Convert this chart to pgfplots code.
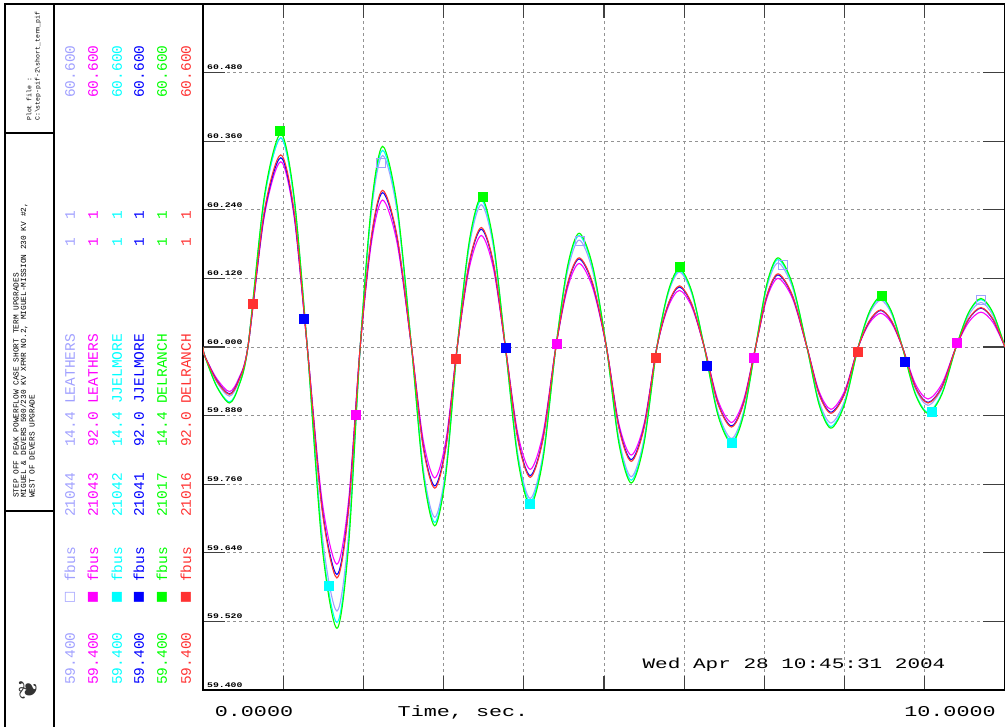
\documentclass[border=0pt]{standalone}
\usepackage{graphicx}
\usepackage{pgfplots}
\usepackage{pgfplotstable}
\pgfplotsset{compat=1.18}
\usepackage{fontspec}
\setmainfont{Liberation Sans}
\newfontfamily\monof{Liberation Mono}
\newfontfamily\symf{DejaVu Sans}
\definecolor{clav}{RGB}{160,160,255}
\definecolor{cmag}{RGB}{255,0,255}
\definecolor{ccya}{RGB}{0,255,255}
\definecolor{cblu}{RGB}{0,0,255}
\definecolor{cgre}{RGB}{0,255,0}
\definecolor{cred}{RGB}{255,50,50}
\newcommand\yl[1]{\scalebox{1.4}[1]{#1}}
\newcommand\wide[1]{\scalebox{1.45}[1]{#1}}

\pgfplotstableread{
t      L      M      C      B      G      R
0.000 60.000 60.000 60.000 60.000 60.000 60.000
0.020 59.985 59.985 59.985 59.985 59.985 59.985
0.170 59.939 59.945 59.932 59.942 59.931 59.941
0.330 59.914 59.922 59.904 59.918 59.902 59.917
0.445 59.939 59.945 59.932 59.942 59.931 59.941
0.560 60.000 60.000 60.000 60.000 60.000 60.000
0.765 60.259 60.229 60.259 60.234 60.264 60.238
0.970 60.366 60.324 60.366 60.331 60.373 60.336
1.135 60.259 60.229 60.259 60.234 60.264 60.238
1.300 60.000 60.000 60.000 60.000 60.000 60.000
1.485 59.673 59.731 59.659 59.719 59.652 59.715
1.670 59.538 59.620 59.518 59.602 59.508 59.596
1.815 59.673 59.731 59.659 59.719 59.652 59.715
1.960 60.000 60.000 60.000 60.000 60.000 60.000
2.100 60.237 60.182 60.243 60.191 60.248 60.194
2.240 60.335 60.257 60.344 60.270 60.351 60.274
2.420 60.237 60.182 60.243 60.191 60.248 60.194
2.600 60.000 60.000 60.000 60.000 60.000 60.000
2.745 59.789 59.838 59.783 59.828 59.779 59.825
2.890 59.702 59.771 59.693 59.757 59.687 59.753
3.030 59.789 59.838 59.783 59.828 59.779 59.825
3.170 60.000 60.000 60.000 60.000 60.000 60.000
3.320 60.176 60.138 60.181 60.146 60.185 60.148
3.470 60.249 60.195 60.257 60.206 60.262 60.209
3.620 60.176 60.138 60.181 60.146 60.185 60.148
3.770 60.000 60.000 60.000 60.000 60.000 60.000
3.925 59.813 59.849 59.808 59.841 59.804 59.839
4.080 59.735 59.786 59.729 59.775 59.723 59.772
4.240 59.813 59.849 59.808 59.841 59.804 59.839
4.400 60.000 60.000 60.000 60.000 60.000 60.000
4.545 60.132 60.103 60.138 60.109 60.141 60.111
4.690 60.187 60.146 60.195 60.154 60.199 60.156
4.860 60.132 60.103 60.138 60.109 60.141 60.111
5.030 60.000 60.000 60.000 60.000 60.000 60.000
5.185 59.840 59.866 59.835 59.861 59.832 59.859
5.340 59.773 59.811 59.767 59.803 59.762 59.800
5.500 59.840 59.866 59.835 59.861 59.832 59.859
5.660 60.000 60.000 60.000 60.000 60.000 60.000
5.800 60.093 60.070 60.095 60.074 60.097 60.075
5.940 60.131 60.099 60.134 60.105 60.137 60.107
6.095 60.093 60.070 60.095 60.074 60.097 60.075
6.250 60.000 60.000 60.000 60.000 60.000 60.000
6.420 59.887 59.907 59.883 59.902 59.881 59.901
6.590 59.840 59.868 59.835 59.862 59.832 59.860
6.740 59.887 59.907 59.883 59.902 59.881 59.901
6.890 60.000 60.000 60.000 60.000 60.000 60.000
7.030 60.104 60.085 60.108 60.089 60.110 60.090
7.170 60.147 60.120 60.153 60.126 60.156 60.128
7.350 60.104 60.085 60.108 60.089 60.110 60.090
7.530 60.000 60.000 60.000 60.000 60.000 60.000
7.680 59.906 59.923 59.902 59.919 59.900 59.918
7.830 59.867 59.891 59.861 59.886 59.858 59.884
8.000 59.906 59.923 59.902 59.919 59.900 59.918
8.170 60.000 60.000 60.000 60.000 60.000 60.000
8.310 60.058 60.042 60.061 60.045 60.062 60.046
8.450 60.082 60.059 60.086 60.064 60.088 60.065
8.585 60.058 60.042 60.061 60.045 60.062 60.046
8.720 60.000 60.000 60.000 60.000 60.000 60.000
8.880 59.928 59.936 59.920 59.931 59.918 59.930
9.040 59.898 59.909 59.886 59.903 59.884 59.902
9.215 59.928 59.936 59.920 59.931 59.918 59.930
9.390 60.000 60.000 60.000 60.000 60.000 60.000
9.545 60.055 60.043 60.059 60.048 60.060 60.049
9.700 60.078 60.061 60.083 60.068 60.085 60.069
9.850 60.055 60.043 60.059 60.048 60.060 60.049
10.000 60.000 60.000 60.000 60.000 60.000 60.000
}\freqdata

\begin{document}
\begin{tikzpicture}
\path[use as bounding box] (0pt,0pt) rectangle (1005pt,727pt);
\begin{axis}[
  at={(203pt,37pt)}, anchor=south west,
  scale only axis, width=802pt, height=686pt,
  xmin=0, xmax=10, ymin=59.4, ymax=60.6,
  xtick={0,1,...,10}, xticklabels={},
  ytick={59.4,59.52,59.64,59.76,59.88,60.0,60.12,60.24,60.36,60.48},
  yticklabels={\yl{59.400},\yl{59.520},\yl{59.640},\yl{59.760},\yl{59.880},\yl{60.000},\yl{60.120},\yl{60.240},\yl{60.360},\yl{60.480}},
  yticklabel style={anchor=south west, inner sep=0pt, xshift=4pt, yshift=2.5pt,
     font=\monof\bfseries\fontsize{7}{7}\selectfont},
  tick align=inside,
  major tick length=22pt,
  xtick style={/pgfplots/major tick length=14pt},
  tick style={line width=1.3pt, black!75},
  grid=major,
  grid style={dash pattern=on 3pt off 3pt, gray!85, line width=0.9pt},
  axis line style={line width=1.4pt, black},
  clip=true,
]
\addplot[clav, line width=1.1pt, smooth] table[x=t, y=L] {\freqdata};
\addplot[cmag, line width=1.1pt, smooth] table[x=t, y=M] {\freqdata};
\addplot[ccya, line width=1.1pt, smooth] table[x=t, y=C] {\freqdata};
\addplot[cblu, line width=1.1pt, smooth] table[x=t, y=B] {\freqdata};
\addplot[cgre, line width=1.1pt, smooth] table[x=t, y=G] {\freqdata};
\addplot[cred, line width=1.1pt, smooth] table[x=t, y=R] {\freqdata};

\addplot[only marks, mark=square, mark size=4.5pt, clav, mark options={line width=1pt}] coordinates {(2.22,60.321) (4.70,60.185) (7.23,60.144) (9.70,60.082)};
\addplot[only marks, mark=square*, mark size=4.5pt, cmag] coordinates {(1.90,59.881) (4.41,60.005) (6.87,59.981) (9.40,60.008)};
\addplot[only marks, mark=square*, mark size=4.5pt, ccya] coordinates {(1.57,59.582) (4.07,59.725) (6.59,59.833) (9.08,59.886)};
\addplot[only marks, mark=square*, mark size=4.5pt, cblu] coordinates {(1.26,60.050) (3.77,59.998) (6.28,59.968) (8.75,59.975)};
\addplot[only marks, mark=square*, mark size=4.5pt, cgre] coordinates {(0.96,60.379) (3.49,60.263) (5.95,60.141) (8.46,60.089)};
\addplot[only marks, mark=square*, mark size=4.5pt, cred] coordinates {(0.62,60.075) (3.15,59.979) (5.65,59.982) (8.16,59.992)};
\end{axis}

\begin{scope}[x=1pt, y=1pt]
% frame of the left panel
\draw[line width=1.2pt] (5,0) -- (5,723) -- (203,723);
\draw[line width=1.2pt] (54,0) -- (54,723);
\draw[line width=1.2pt] (5,594) -- (54,594);
\draw[line width=1.2pt] (5,216) -- (54,216);

% bottom texts
\node[font=\monof\fontsize{15}{15}\selectfont, inner sep=0pt] at (254,15) {\wide{0.0000}};
\node[font=\monof\fontsize{15}{15}\selectfont, inner sep=0pt] at (463,15) {\wide{Time, sec.}};
\node[font=\monof\fontsize{15}{15}\selectfont, inner sep=0pt] at (950,15) {\wide{10.0000}};
\node[font=\monof\fontsize{14.5}{14.5}\selectfont, inner sep=0pt] at (794,62) {\wide{Wed Apr 28 10:45:31 2004}};

% top box
\begin{scope}
\clip (6,595) rectangle (53,722);
\node[rotate=90, anchor=west, inner sep=0pt, font=\monof\fontsize{6.5}{6.5}\selectfont] at (29,606) {Plot file :};
\node[rotate=90, anchor=west, inner sep=0pt, font=\monof\fontsize{6.5}{6.5}\selectfont] at (38,606) {C:\textbackslash step-pif-2\textbackslash short\_term\_pif};
\end{scope}

% title box
\node[rotate=90, anchor=west, inner sep=0pt, font=\monof\fontsize{7.8}{7.8}\selectfont] at (16,229) {STEP OFF PEAK POWERFLOW CASE SHORT TERM UPGRADES};
\node[rotate=90, anchor=west, inner sep=0pt, font=\monof\fontsize{7.8}{7.8}\selectfont] at (24,229) {MIGUEL \& DEVERS 500/230 KV XFMR NO.2, MIGUEL-MISSION 230 KV \#2,};
\node[rotate=90, anchor=west, inner sep=0pt, font=\monof\fontsize{7.8}{7.8}\selectfont] at (32,229) {WEST OF DEVERS UPGRADE};

% logo
\node[rotate=90, inner sep=0pt, font=\symf\fontsize{26}{26}\selectfont, black!80] at (28,37) {❦};

% legend columns
\foreach \xx/\col/\mk/\bus/\kv/\name in {
  70/clav/□/21044/14.4/LEATHERS,
  93/cmag/■/21043/92.0/LEATHERS,
  117/ccya/■/21042/14.4/JJELMORE,
  139/cblu/■/21041/92.0/JJELMORE,
  162/cgre/■/21017/14.4/DELRANCH,
  186/cred/■/21016/92.0/DELRANCH}{
  \begin{scope}[every node/.style={rotate=90, inner sep=0pt, text=\col, font=\monof\fontsize{14.5}{14.5}\selectfont}]
  \node[anchor=west] at (\xx,42) {59.400};
  \node[font=\symf\fontsize{13}{13}\selectfont] at (\xx,130) {\mk};
  \node[anchor=west] at (\xx,145) {fbus};
  \node[anchor=west] at (\xx,210) {\bus};
  \node[anchor=west] at (\xx,280) {\kv};
  \node[anchor=west] at (\xx,323) {\name};
  \node at (\xx,485) {1};
  \node at (\xx,512) {1};
  \node[anchor=west] at (\xx,629) {60.600};
  \end{scope}
}
\end{scope}
\end{tikzpicture}
\end{document}
